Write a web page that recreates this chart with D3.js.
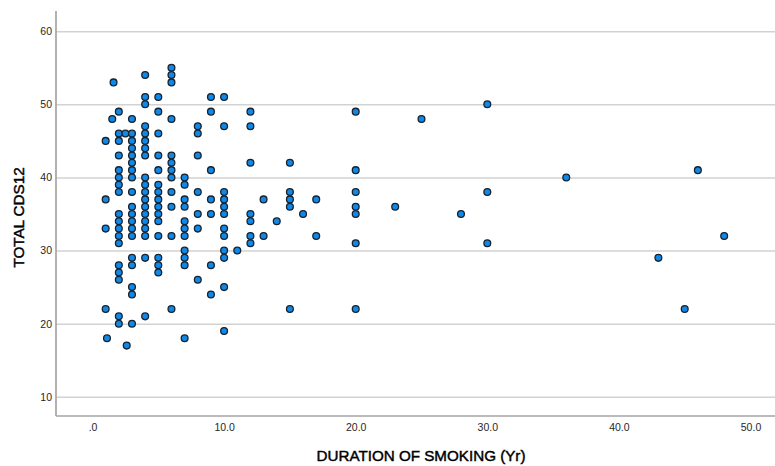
<!DOCTYPE html>
<html>
<head>
  <script src="https://d3js.org/d3.v7.min.js"></script>
  <style>
  body { margin: 0; background: #fff; }
  text { font-family: 'Liberation Sans', Arial, sans-serif; }
  .tick text { font-size: 10.5px; fill: #262626; }
  .axis-title { font-size: 15.2px; fill: #000; stroke: #000; stroke-width: 0.45px; }
  .grid line { stroke: #d2d2d2; stroke-width: 1.6px; }
  .grid path { display: none; }
  .dot { fill: #0f88e8; stroke: #16222e; stroke-width: 1.3px; }
  </style>
</head>
<body>
  <div id="viz"></div>
  <script>
  var xTicks = [0, 10, 20, 30, 40, 50];
  var yTicks = [10, 20, 30, 40, 50, 60];

  // one entry per point
  var duration = [
    1, 1, 1, 1, 1.1, 1.6, 1.5,
    2, 2, 2, 2, 2, 2, 2, 2, 2, 2, 2, 2, 2, 2, 2, 2, 2, 2,
    2.5, 2.6,
    3, 3, 3, 3, 3, 3, 3, 3, 3, 3, 3, 3, 3, 3, 3, 3, 3, 3, 3,
    4, 4, 4, 4, 4, 4, 4, 4, 4, 4, 4, 4, 4, 4, 4, 4, 4, 4, 4,
    5, 5, 5, 5, 5, 5, 5, 5, 5, 5, 5, 5, 5, 5, 5,
    6, 6, 6, 6, 6, 6, 6, 6, 6, 6, 6, 6,
    7, 7, 7, 7, 7, 7, 7, 7, 7, 7, 7,
    8, 8, 8, 8, 8, 8, 8,
    9, 9, 9, 9, 9, 9, 9,
    10, 10, 10, 10, 10, 10, 10, 10, 10, 10, 10, 10,
    11,
    12, 12, 12, 12, 12, 12, 12,
    13, 13, 14,
    15, 15, 15, 15, 15,
    16, 17, 17,
    20, 20, 20, 20, 20, 20, 20,
    23, 25, 28, 30, 30, 30, 36, 43, 45, 46, 48
  ];
  var totalCds = [
    45, 37, 33, 22, 18, 53, 48,
    49, 46, 45, 43, 41, 40, 39, 38, 35, 34, 33, 32, 31, 28, 27, 26, 21, 20,
    46, 17,
    48, 46, 45, 44, 43, 42, 41, 40, 38, 36, 35, 34, 33, 32, 29, 28, 25, 24, 20,
    54, 51, 50, 47, 46, 45, 44, 43, 40, 39, 38, 37, 36, 35, 34, 33, 32, 29, 21,
    51, 49, 46, 43, 41, 39, 38, 37, 36, 35, 34, 32, 29, 28, 27,
    55, 54, 53, 48, 43, 42, 41, 40, 38, 36, 32, 22,
    40, 39, 37, 36, 34, 33, 32, 30, 29, 28, 18,
    47, 46, 43, 38, 35, 33, 26,
    51, 49, 41, 37, 35, 28, 24,
    51, 47, 38, 37, 36, 35, 33, 32, 30, 29, 25, 19,
    30,
    49, 47, 42, 35, 34, 32, 31,
    37, 32, 34,
    42, 38, 37, 36, 22,
    35, 37, 32,
    49, 41, 38, 36, 35, 31, 22,
    36, 48, 35, 50, 38, 31, 40, 29, 22, 41, 32
  ];

  var width = 775,
    height = 466,
    left = 56,
    bottom = 416;

  var svg = d3.select("#viz").append("svg")
    .attr("width", width)
    .attr("height", height)
    .style("display", "block");

  var x = d3.scaleLinear().domain([0, 50]).range([92.5, 750.5]);
  var y = d3.scaleLinear().domain([10, 60]).range([396.8, 31.2]);

  // grid lines and y labels
  svg.append("g")
    .attr("class", "grid")
    .attr("transform", "translate(" + left + ",0)")
    .call(d3.axisLeft(y).tickValues(yTicks).tickSize(-(width - left)).tickPadding(4).tickFormat(d3.format("d")));

  svg.append("g")
    .attr("class", "grid")
    .attr("transform", "translate(0," + bottom + ")")
    .call(d3.axisBottom(x).tickValues(xTicks).tickSize(0).tickPadding(8)
      .tickFormat(function(d) { return d == 0 ? ".0" : d3.format(".1f")(d); }));

  // axis lines
  svg.append("line").attr("x1", left).attr("x2", left).attr("y1", 11).attr("y2", bottom)
    .style("stroke", "#a4a4a4").style("stroke-width", 1.7);
  svg.append("line").attr("x1", left).attr("x2", width).attr("y1", bottom).attr("y2", bottom)
    .style("stroke", "#a4a4a4").style("stroke-width", 1.7);

  svg.selectAll(".dot")
    .data(d3.range(duration.length))
    .enter().append("circle")
    .attr("class", "dot")
    .attr("cx", function(i) { return x(duration[i]); })
    .attr("cy", function(i) { return y(totalCds[i]); })
    .attr("r", 3.4);

  svg.append("text")
    .attr("class", "axis-title")
    .attr("x", 421)
    .attr("y", 461)
    .attr("text-anchor", "middle")
    .text("DURATION OF SMOKING (Yr)");

  svg.append("text")
    .attr("class", "axis-title")
    .attr("transform", "translate(23.5,217.5) rotate(-90)")
    .attr("text-anchor", "middle")
    .text("TOTAL CDS12");

  console.log("points", duration.length, totalCds.length);
  </script>
</body>
</html>
